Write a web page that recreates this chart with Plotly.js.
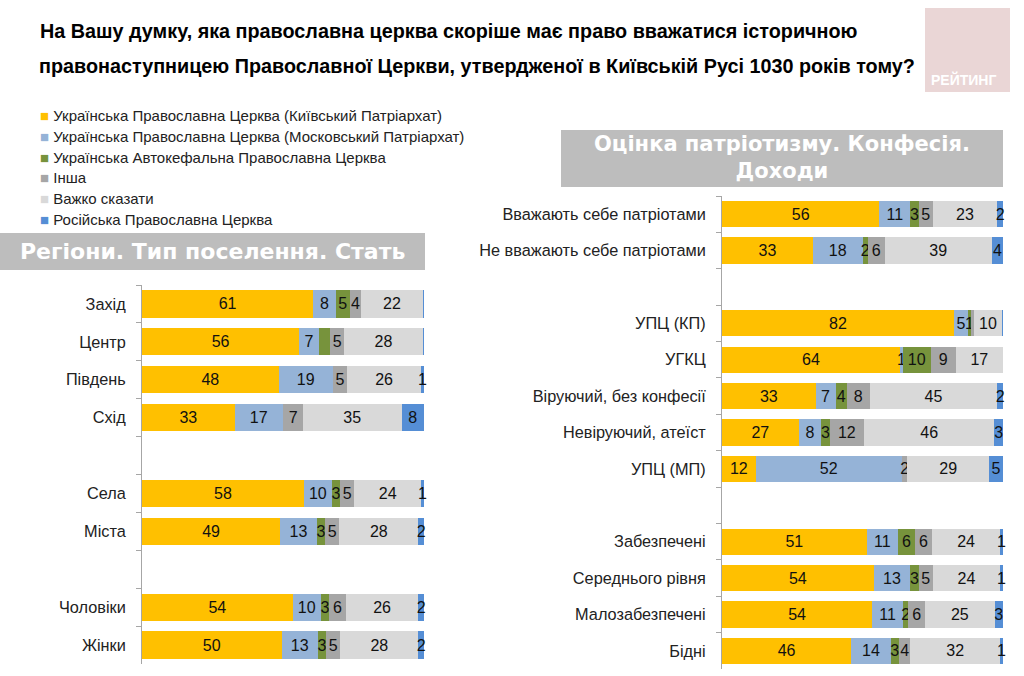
<!DOCTYPE html>
<html>
<head>
<meta charset="utf-8">
<script src="https://cdn.plot.ly/plotly-3.0.1.min.js"></script>
<style>
html,body{margin:0;padding:0;background:#fff;}
#chart{width:1024px;height:676px;}
</style>
</head>
<body>
<div id="chart"></div>
<script>
// ---------- DATA ----------
const seriesNames = [
  'Українська Православна Церква (Київський Патріархат)',
  'Українська Православна Церква (Московський Патріархат)',
  'Українська Автокефальна Православна Церква',
  'Інша',
  'Важко сказати',
  'Російська Православна Церква'
];
const seriesColors = ['#FFC000', '#95B3D7', '#77933C', '#A6A6A6', '#D9D9D9', '#558ED5'];

// Left chart: regions, settlement type, sex
const leftRegions = ['Захід', 'Центр', 'Південь', 'Схід'];
const leftSettlement = ['Села', 'Міста'];
const leftSex = ['Чоловіки', 'Жінки'];
const leftCats = ['Захід', 'Центр', 'Південь', 'Схід', 'Села', 'Міста', 'Чоловіки', 'Жінки'];
const leftUPC_KP = [61, 56, 48, 33, 58, 49, 54, 50];
const leftUPC_MP = [8, 7, 19, 17, 10, 13, 10, 13];
const leftUAPC   = [5, 4, 0, 0.3, 3, 3, 3, 3];
const leftOther  = [4, 5, 5, 7, 5, 5, 6, 5];
const leftHard   = [22, 28, 26, 35, 24, 28, 26, 28];
const leftROC    = [0.4, 0.4, 1, 8, 1, 2, 2, 2];

// Right chart: patriotism, confession, income
const rightPatriot = ['Вважають себе патріотами', 'Не вважають себе патріотами'];
const rightConfession = ['УПЦ (КП)', 'УГКЦ', 'Віруючий, без конфесії', 'Невіруючий, атеїст', 'УПЦ (МП)'];
const rightIncome = ['Забезпечені', 'Середнього рівня', 'Малозабезпечені', 'Бідні'];
const rightCats = ['Вважають себе патріотами', 'Не вважають себе патріотами', 'УПЦ (КП)', 'УГКЦ',
  'Віруючий, без конфесії', 'Невіруючий, атеїст', 'УПЦ (МП)', 'Забезпечені', 'Середнього рівня',
  'Малозабезпечені', 'Бідні'];
const rightUPC_KP = [56, 33, 82, 64, 33, 27, 12, 51, 54, 54, 46];
const rightUPC_MP = [11, 18, 5, 1, 7, 8, 52, 11, 13, 11, 14];
const rightUAPC   = [3, 2, 1, 10, 4, 3, 0, 6, 3, 2, 3];
const rightOther  = [5, 6, 1, 9, 8, 12, 2, 6, 5, 6, 4];
const rightHard   = [23, 39, 10, 17, 45, 46, 29, 24, 24, 25, 32];
const rightROC    = [2, 4, 0.3, 0, 2, 3, 5, 1, 1, 3, 1];

// labels that are not printed in the original
const hiddenLabels = [
  {side: 'L', cat: 'Центр', series: 2},
  {side: 'R', cat: 'УПЦ (КП)', series: 3}
];

const titleLine1 = 'На Вашу думку, яка православна церква скоріше має право вважатися історичною';
const titleLine2 = 'правонаступницею Православної Церкви, утвердженої в Київській Русі 1030 років тому?';
const leftHeader = 'Регіони. Тип поселення. Стать';
const rightHeader = 'Оцінка патріотизму. Конфесія.<br>Доходи';
const logoText = 'РЕЙТИНГ';

// ---------- BUILD ----------
const FONT = '"Liberation Sans", Arial, sans-serif';
const leftSeries = [leftUPC_KP, leftUPC_MP, leftUAPC, leftOther, leftHard, leftROC];
const rightSeries = [rightUPC_KP, rightUPC_MP, rightUAPC, rightOther, rightHard, rightROC];

function labelsFor(side, cats, vals, si) {
  return vals.map((v, i) => {
    const hid = hiddenLabels.some(h => h.side === side && h.cat === cats[i] && h.series === si);
    return (v >= 1 && !hid) ? String(v) : '';
  });
}

const traces = [];
function addSide(series, cats, side, xa, ya) {
  series.forEach((vals, si) => {
    traces.push({
      type: 'bar', orientation: 'h', name: seriesNames[si],
      y: cats, x: vals, xaxis: xa, yaxis: ya,
      marker: {color: seriesColors[si], line: {width: 0}},
      text: labelsFor(side, cats, vals, si),
      textposition: 'inside', insidetextanchor: 'middle', textangle: 0,
      textfont: {family: FONT, size: 16, color: '#111'},
      hoverinfo: 'name+x', showlegend: false, cliponaxis: false
    });
  });
}
addSide(leftSeries, leftCats, 'L', 'x', 'y');
addSide(rightSeries, rightCats, 'R', 'x2', 'y2');

const leftOrder = [...leftRegions, ' ', ...leftSettlement, '  ', ...leftSex];
const rightOrder = [...rightPatriot, ' ', ...rightConfession, '  ', ...rightIncome];

const yCommon = {
  type: 'category', autorange: 'reversed', tickson: 'boundaries',
  ticks: 'outside', ticklen: 5, tickcolor: '#a6a6a6', tickwidth: 1, ticklabelstandoff: 12,
  showline: true, linecolor: '#a6a6a6', linewidth: 1, showgrid: false, zeroline: false,
  tickfont: {family: FONT, size: 16.3, color: '#222'}, automargin: false
};
const xCommon = {range: [0, 100], visible: false, fixedrange: true, showgrid: false, zeroline: false};

// custom legend built from series names/colours
const annotations = [];
const shapes = [];
seriesNames.forEach((n, i) => {
  annotations.push({
    xref: 'paper', yref: 'paper', x: 38 / 1024, y: 1 - (116 + i * 20.6) / 676,
    xanchor: 'left', yanchor: 'middle', showarrow: false, align: 'left',
    text: '<span style="color:' + seriesColors[i] + '">■</span> ' + n,
    font: {family: FONT, size: 15, color: '#222'}
  });
});

// title line 2 (line 1 is layout.title)
annotations.push({xref: 'paper', yref: 'paper', x: 37 / 1024, y: 1 - 66 / 676,
  xanchor: 'left', yanchor: 'middle', showarrow: false, text: titleLine2,
  font: {family: FONT, size: 19.8, color: '#000', weight: 'bold'}});

// section headers
shapes.push({type: 'rect', xref: 'paper', yref: 'paper', x0: 0, x1: 425 / 1024,
  y0: 1 - 270 / 676, y1: 1 - 233 / 676, fillcolor: '#BDBDBD', line: {width: 0}, layer: 'below'});
annotations.push({xref: 'paper', yref: 'paper', x: 212 / 1024, y: 1 - 251 / 676,
  xanchor: 'center', yanchor: 'middle', showarrow: false, text: leftHeader,
  font: {family: '"DejaVu Sans", sans-serif', size: 22, color: '#fff', weight: 'bold'}});
shapes.push({type: 'rect', xref: 'paper', yref: 'paper', x0: 561 / 1024, x1: 1003 / 1024,
  y0: 1 - 187 / 676, y1: 1 - 130 / 676, fillcolor: '#BDBDBD', line: {width: 0}, layer: 'below'});
annotations.push({xref: 'paper', yref: 'paper', x: 782 / 1024, y: 1 - 158 / 676,
  xanchor: 'center', yanchor: 'middle', showarrow: false, text: rightHeader,
  font: {family: '"DejaVu Sans", sans-serif', size: 21, color: '#fff', weight: 'bold'}});

// logo
shapes.push({type: 'rect', xref: 'paper', yref: 'paper', x0: 925 / 1024, x1: 1010 / 1024,
  y0: 1 - 92 / 676, y1: 1 - 8 / 676, fillcolor: '#EAD6D6', line: {width: 0}, layer: 'below'});
annotations.push({xref: 'paper', yref: 'paper', x: 929 / 1024, y: 1 - 80 / 676,
  xanchor: 'left', yanchor: 'middle', showarrow: false, text: logoText,
  font: {family: FONT, size: 14, color: '#fff', weight: 'bold'}});

const layout = {
  width: 1024, height: 676,
  margin: {l: 0, r: 0, t: 0, b: 0},
  paper_bgcolor: '#ffffff', plot_bgcolor: 'rgba(0,0,0,0)',
  barmode: 'stack', barnorm: 'percent', bargap: 0.28,
  showlegend: false,
  uniformtext: {mode: 'show', minsize: 16},
  title: {
    text: titleLine1, x: 40 / 1024, xanchor: 'left', xref: 'container',
    y: 1 - 31 / 676, yanchor: 'middle', yref: 'container',
    font: {family: FONT, size: 19.8, color: '#000', weight: 'bold'}
  },
  xaxis: Object.assign({}, xCommon, {domain: [142 / 1024, 424 / 1024], anchor: 'y'}),
  yaxis: Object.assign({}, yCommon, {domain: [1 - 664 / 676, 1 - 285 / 676], anchor: 'x',
    categoryorder: 'array', categoryarray: leftOrder}),
  xaxis2: Object.assign({}, xCommon, {domain: [722 / 1024, 1003 / 1024], anchor: 'y2'}),
  yaxis2: Object.assign({}, yCommon, {domain: [1 - 669 / 676, 1 - 196 / 676], anchor: 'x2',
    categoryorder: 'array', categoryarray: rightOrder}),
  annotations: annotations,
  shapes: shapes,
  font: {family: FONT}
};

Plotly.newPlot('chart', traces, layout, {displayModeBar: false, staticPlot: true});
</script>
</body>
</html>
